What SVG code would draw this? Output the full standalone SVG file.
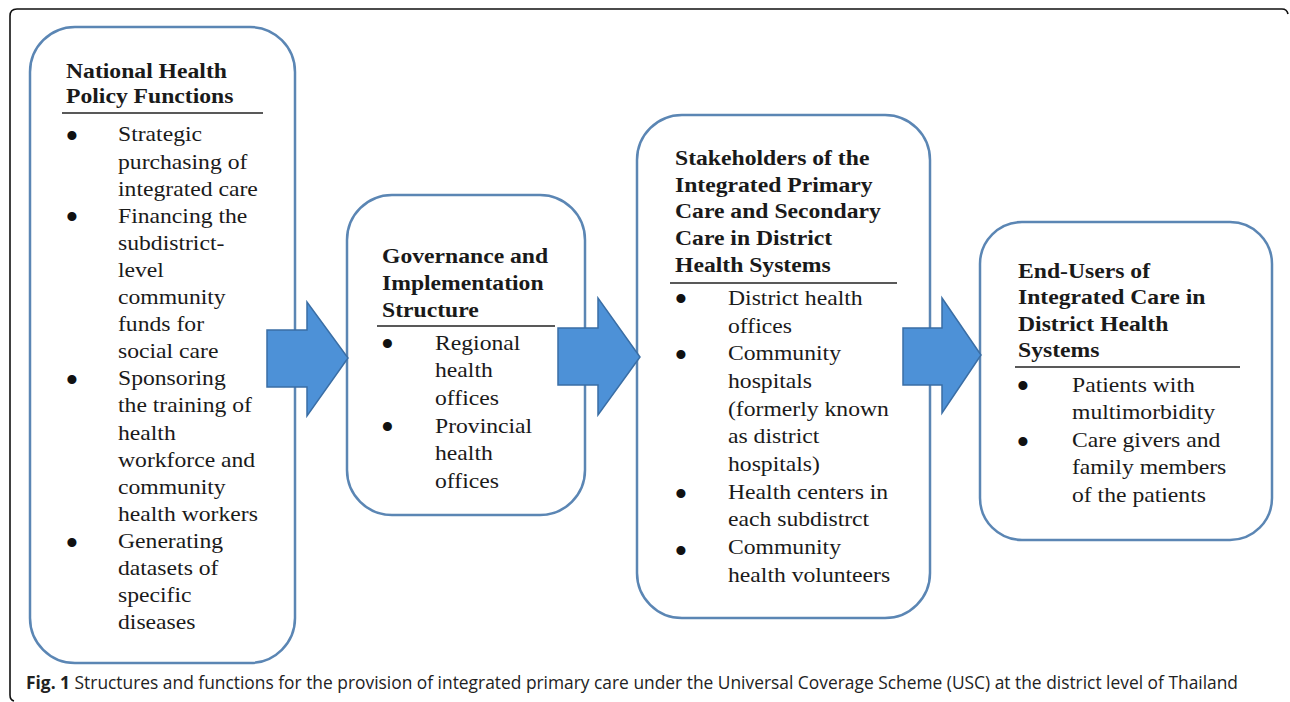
<svg xmlns="http://www.w3.org/2000/svg" width="1290" height="702" viewBox="0 0 1290 702">
<style>
.box{fill:#ffffff;stroke:#5b86b4;stroke-width:2.5}
.arrow{fill:#4d91d7;stroke:#3a6ea5;stroke-width:1.5;stroke-linejoin:miter}
.t{font-family:"Liberation Serif","Times New Roman",serif;font-size:21.5px;fill:#1a1a1a}
.b{font-weight:bold}
.bul{font-family:"Liberation Serif","Times New Roman",serif;font-size:38px;fill:#111}
.ul{stroke:#222;stroke-width:1.6}
.frame{fill:none;stroke:#111;stroke-width:1.6}
.cap{font-family:"Open Sans","Noto Sans",sans-serif;font-size:18px;fill:#222}
</style>
<rect width="1290" height="702" fill="#ffffff"/>
<path class="frame" d="M14,701 Q10,700 10,695 V16 Q10,9 17,9 H1282 Q1287,9 1288,14"/>

<g id="node-national">
<rect class="box" x="30" y="27" width="265" height="636" rx="45" ry="45"/>
<text class="t b" transform="matrix(1.1 0 0 1 -6.6 0)"><tspan x="66" y="78">National Health</tspan><tspan x="66" y="103">Policy Functions</tspan></text>
<line class="ul" x1="62" y1="113" x2="263" y2="113"/>
<text class="bul"><tspan x="65.3" y="149">•</tspan><tspan x="65.3" y="230">•</tspan><tspan x="65.3" y="393">•</tspan><tspan x="65.3" y="556">•</tspan></text>
<text class="t" transform="matrix(1.1 0 0 1 -11.8 0)">
<tspan x="118" y="141.5">Strategic</tspan>
<tspan x="118" dy="27.1">purchasing of</tspan>
<tspan x="118" dy="27.1">integrated care</tspan>
<tspan x="118" dy="27.1">Financing the</tspan>
<tspan x="118" dy="27.1">subdistrict-</tspan>
<tspan x="118" dy="27.1">level</tspan>
<tspan x="118" dy="27.1">community</tspan>
<tspan x="118" dy="27.1">funds for</tspan>
<tspan x="118" dy="27.1">social care</tspan>
<tspan x="118" dy="27.1">Sponsoring</tspan>
<tspan x="118" dy="27.1">the training of</tspan>
<tspan x="118" dy="27.1">health</tspan>
<tspan x="118" dy="27.1">workforce and</tspan>
<tspan x="118" dy="27.1">community</tspan>
<tspan x="118" dy="27.1">health workers</tspan>
<tspan x="118" dy="27.1">Generating</tspan>
<tspan x="118" dy="27.1">datasets of</tspan>
<tspan x="118" dy="27.1">specific</tspan>
<tspan x="118" dy="27.1">diseases</tspan>
</text>
</g>

<g id="node-governance">
<rect class="box" x="347" y="195" width="238" height="320" rx="45" ry="45"/>
<text class="t b" transform="matrix(1.1 0 0 1 -38.2 0)"><tspan x="382" y="263">Governance and</tspan><tspan x="382" dy="26.8">Implementation</tspan><tspan x="382" dy="26.8">Structure</tspan></text>
<line class="ul" x1="377" y1="326" x2="555" y2="326"/>
<text class="bul"><tspan x="380.8" y="357">•</tspan><tspan x="380.8" y="440">•</tspan></text>
<text class="t" transform="matrix(1.1 0 0 1 -43.5 0)">
<tspan x="435" y="350">Regional</tspan>
<tspan x="435" dy="27.3">health</tspan>
<tspan x="435" dy="27.3">offices</tspan>
<tspan x="435" dy="28.5">Provincial</tspan>
<tspan x="435" dy="27.3">health</tspan>
<tspan x="435" dy="27.3">offices</tspan>
</text>
</g>

<g id="node-stakeholders">
<rect class="box" x="637" y="115" width="293" height="503" rx="45" ry="45"/>
<text class="t b" transform="matrix(1.1 0 0 1 -67.5 0)"><tspan x="675" y="165">Stakeholders of the</tspan><tspan x="675" dy="26.7">Integrated Primary</tspan><tspan x="675" dy="26.7">Care and Secondary</tspan><tspan x="675" dy="26.7">Care in District</tspan><tspan x="675" dy="26.7">Health Systems</tspan></text>
<line class="ul" x1="670" y1="283" x2="897" y2="283"/>
<text class="bul"><tspan x="674.3" y="312">•</tspan><tspan x="674.3" y="368">•</tspan><tspan x="674.3" y="507">•</tspan><tspan x="674.3" y="564">•</tspan></text>
<text class="t" transform="matrix(1.1 0 0 1 -72.8 0)">
<tspan x="728" y="305">District health</tspan>
<tspan x="728" dy="27.67">offices</tspan>
<tspan x="728" dy="27.67">Community</tspan>
<tspan x="728" dy="27.67">hospitals</tspan>
<tspan x="728" dy="27.67">(formerly known</tspan>
<tspan x="728" dy="27.67">as district</tspan>
<tspan x="728" dy="27.67">hospitals)</tspan>
<tspan x="728" dy="27.67">Health centers in</tspan>
<tspan x="728" dy="27.67">each subdistrct</tspan>
<tspan x="728" dy="27.67">Community</tspan>
<tspan x="728" dy="27.67">health volunteers</tspan>
</text>
</g>

<g id="node-endusers">
<rect class="box" x="980" y="222" width="292" height="318" rx="42" ry="42"/>
<text class="t b" transform="matrix(1.1 0 0 1 -101.8 0)"><tspan x="1018" y="278">End-Users of</tspan><tspan x="1018" dy="26.4">Integrated Care in</tspan><tspan x="1018" dy="26.4">District Health</tspan><tspan x="1018" dy="26.4">Systems</tspan></text>
<line class="ul" x1="1015" y1="367" x2="1240" y2="367"/>
<text class="bul"><tspan x="1016.3" y="399">•</tspan><tspan x="1016.3" y="455">•</tspan></text>
<text class="t" transform="matrix(1.1 0 0 1 -107.2 0)">
<tspan x="1072" y="391.7">Patients with</tspan>
<tspan x="1072" dy="27.5">multimorbidity</tspan>
<tspan x="1072" dy="27.5">Care givers and</tspan>
<tspan x="1072" dy="27.5">family members</tspan>
<tspan x="1072" dy="27.5">of the patients</tspan>
</text>
</g>

<g id="connectors">
<path class="arrow" d="M267,330 H307 V302 L348,358 L307,416 V387 H267 Z"/>
<path class="arrow" d="M558,328 H598 V298 L640,357 L598,415 V385 H558 Z"/>
<path class="arrow" d="M903,328 H942 V298 L981,355 L942,413 V385 H903 Z"/>
</g>

<text class="cap" x="26" y="689" textLength="1212" lengthAdjust="spacingAndGlyphs"><tspan font-weight="bold">Fig. 1</tspan> Structures and functions for the provision of integrated primary care under the Universal Coverage Scheme (USC) at the district level of Thailand</text>
</svg>
